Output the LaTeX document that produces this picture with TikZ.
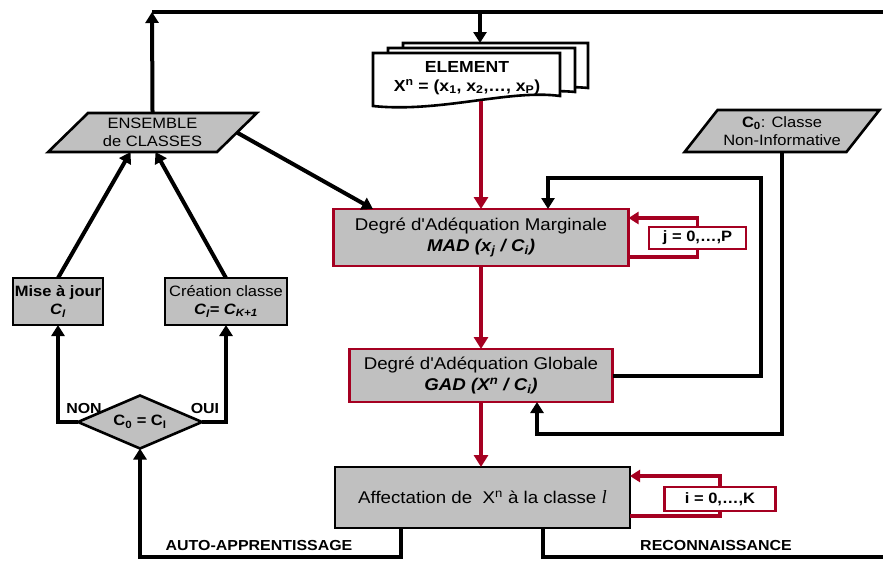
\documentclass[tikz,border=0pt]{standalone}
\usepackage{fontspec}
\setmainfont{Liberation Sans}[FakeStretch=1.1]
\newfontfamily\serifit{Liberation Serif}[Scale=1.1]
\newfontfamily\plainsans{Liberation Sans}[FakeStretch=1.1]
\usetikzlibrary{shapes.geometric,arrows.meta}
\definecolor{crim}{RGB}{165,0,33}
\definecolor{boxgray}{RGB}{192,192,192}
\newcommand{\fs}[1]{\fontsize{#1}{\dimexpr#1pt+3pt\relax}\selectfont}
\newcommand{\apos}{{\plainsans\char39}}

\begin{document}
\begin{tikzpicture}[x=1pt,y=-1pt,
  every node/.style={align=center, inner sep=0pt, outer sep=0pt},
  txt/.style={font=\fs{17}},
  graybox/.style={draw, fill=boxgray, line width=2.6pt, rectangle},
  redbox/.style={draw=crim, fill=boxgray, line width=2.6pt, rectangle, txt},
  loopbox/.style={draw=crim, fill=white, line width=2.6pt, rectangle, font=\fs{15}\bfseries},
  slanted/.style={draw, fill=boxgray, line width=2.6pt, shape=trapezium,
    trapezium stretches=true},
  wire/.style={line width=4pt},
  flow/.style={wire, -{Triangle[width=13pt,length=11pt]}},
  redflow/.style={line width=4pt, draw=crim, -{Triangle[width=14pt,length=12pt]}},
  redloop/.style={line width=3.5pt, draw=crim},
  doc/.style={draw, fill=white, line width=2.6pt, line join=miter},
  lbl/.style={font=\fs{14.5}\bfseries}]
\useasboundingbox (0,0) rectangle (883,563);

% ---------- nodes ----------
\node[redbox, minimum width=295pt, minimum height=57pt] (mad) at (481,237.5)
  {Degré d\apos Adéquation Marginale\\[1pt] \textbf{\textit{MAD (x\textsubscript{j} / C\textsubscript{i})}}};
\node[redbox, minimum width=263pt, minimum height=53pt] (gad) at (481,375.5)
  {Degré d\apos Adéquation Globale\\[1pt] \textbf{\textit{GAD (X\textsuperscript{n} / C\textsubscript{i})}}};
\node[graybox, txt, minimum width=295pt, minimum height=61pt] (aff) at (482.5,497.5)
  {Affectation de\ \ X\textsuperscript{n} à la classe {\serifit\itshape l}};

\node[graybox, font=\fs{15}, minimum width=90pt, minimum height=47pt] (mise) at (58,301.5)
  {\textbf{Mise à jour}\\ \textbf{\textit{C\textsubscript{l}}}};
\node[graybox, font=\fs{15}, minimum width=122pt, minimum height=47pt] (crea) at (226,301.5)
  {Création classe\\ \textbf{\textit{C\textsubscript{l}= C\textsubscript{K+1}}}};

\node[draw, fill=boxgray, line width=2.6pt, shape=diamond, aspect=2.34,
  minimum width=124pt, minimum height=53pt, font=\fs{15}\bfseries] (dec) at (140,422)
  {C\textsubscript{0} = C\textsubscript{l}};

\node[slanted, trapezium left angle=43, trapezium right angle=137,
  minimum width=209pt, minimum height=39pt, font=\fs{15}] (ens) at (152.5,132.5)
  {ENSEMBLE\\ de CLASSES};
\node[slanted, trapezium left angle=44, trapezium right angle=136,
  minimum width=195pt, minimum height=42pt, font=\fs{15}] (czero) at (782,131)
  {\textbf{C\textsubscript{0}}: Classe\\ Non-Informative};

\node[loopbox, minimum width=97pt, minimum height=22pt] (jbox) at (697.5,238) {j = 0,…,P};
\node[loopbox, minimum width=111pt, minimum height=24pt] (ibox) at (720,499) {i = 0,…,K};

% ---------- stacked element sheets ----------
\draw[doc] (403,43) -- (588,43) -- (588,88) .. controls (540,83) and (470,100) .. (403,95) -- cycle;
\draw[doc] (388,48) -- (575,48) -- (575,92) .. controls (527,87) and (457,105) .. (388,100) -- cycle;
\draw[doc] (373,53) -- (560,53) -- (560,96) .. controls (510,89) and (440,113) .. (373,106) -- cycle;
\node[font=\fs{16}\bfseries] (elem) at (467,78)
  {ELEMENT\\ X\textsuperscript{n} = (x\textsubscript{1}, x\textsubscript{2},…, x\textsubscript{P})};
\coordinate (elemin) at (480,43);
\coordinate (elemout) at (481,101);

% ---------- outer loop coordinates ----------
\coordinate (tl) at (152,12);
\coordinate (tr) at (883,12);
\coordinate (br) at (883,557);
\coordinate (bl) at (140,557);
\coordinate (gr) at (761,178);
\coordinate (cb) at (537,434);
\coordinate (mlb) at (697.5,257);
\coordinate (mlt) at (697.5,218);
\coordinate (alb) at (720,516);
\coordinate (alt) at (720,476);

% ---------- black connectors ----------
\draw[wire] (tl) -- (tr);
\draw[flow] (ens.north) -- (tl);
\draw[flow] (tl -| elemin) -- (elemin);
\draw[flow] (mise.north) -- ([xshift=-22pt]ens.south);
\draw[flow] (crea.north) -- ([xshift=3pt]ens.south);
\draw[flow] (ens.east) -- ([xshift=-108pt]mad.north);
\draw[flow] (dec.west) -| (mise.south);
\draw[flow] (dec.east) -| (crea.south);
\draw[flow] ([xshift=-82pt]aff.south) |- (bl) -- (dec.south);
\draw[wire] ([xshift=60pt]aff.south) |- (br);
\draw[flow] (gad.east) -| (gr) -| ([xshift=67pt]mad.north);
\draw[flow] (czero.south) |- (cb) -- (cb |- gad.south);

% ---------- red connectors ----------
\draw[redflow] (elemout) -- (mad.north);
\draw[redflow] (mad.south) -- (gad.north);
\draw[redflow] (gad.south) -- ([xshift=-1.5pt]aff.north);
\draw[redloop] (mad.east |- mlb) -| (jbox.south);
\draw[redloop, -{Triangle[width=12pt,length=10pt]}] (jbox.north) |- (mad.east |- mlt);
\draw[redloop] (aff.east |- alb) -| (ibox.south);
\draw[redloop, -{Triangle[width=12pt,length=10pt]}] (ibox.north) |- (aff.east |- alt);

% ---------- labels ----------
\node[lbl] (non) at (84,408) {NON};
\node[lbl] (oui) at (205,408) {OUI};
\node[lbl] (auto) at (259,545) {AUTO-APPRENTISSAGE};
\node[lbl] (reco) at (716,545) {RECONNAISSANCE};
\end{tikzpicture}
\end{document}
